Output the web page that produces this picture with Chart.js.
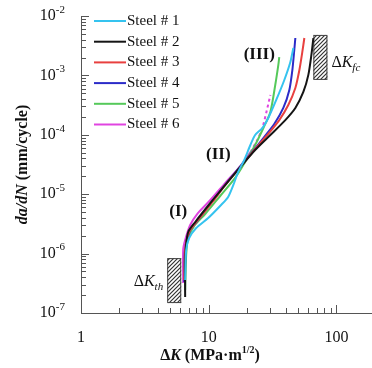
<!DOCTYPE html>
<html>
<head>
<meta charset="utf-8">
<script src="https://cdn.jsdelivr.net/npm/chart.js"></script>
<style>
  html, body { margin:0; padding:0; background:#fff; }
  #c { display:block; }
</style>
</head>
<body>
<canvas id="c" width="372" height="368"></canvas>
<script>
// 데이터
var seriesNames = ['Steel # 1', 'Steel # 2', 'Steel # 3', 'Steel # 4', 'Steel # 5', 'Steel # 6'];
var seriesColors = ['#35c3ef', '#151515', '#e8403f', '#2b2bc8', '#55c95a', '#e044e0'];

var s1K = [6.54, 6.66, 7.03, 7.98, 9.91, 12.5, 14.2, 15.6, 17.0, 19.0, 21.2, 23.1, 26.3, 29.3, 33.8, 39.1, 43.6, 46.0];
var s1R = [3.6e-7, 1.15e-6, 1.83e-6, 2.7e-6, 3.97e-6, 6.58e-6, 8.97e-6, 1.43e-5, 2.37e-5, 3.77e-5, 6.73e-5, 9.93e-5, 1.3e-4, 1.92e-4, 3.86e-4, 8.37e-4, 1.68e-3, 2.89e-3];

var s2K = [6.54, 6.54, 6.66, 6.91, 7.84, 10.3, 13.5, 17.7, 23.1, 30.4, 39.8, 47.7, 55.1, 60.3, 63.7, 66.0];
var s2R = [1.86e-7, 6.43e-7, 1.4e-6, 2.31e-6, 3.4e-6, 7.11e-6, 1.43e-5, 2.87e-5, 5.55e-5, 9.93e-5, 1.77e-4, 2.83e-4, 5.26e-4, 1.02e-3, 2.21e-3, 4.26e-3];

var s3K = [6.43, 6.54, 7.03, 8.12, 10.7, 13.7, 17.7, 22.8, 28.8, 35.7, 42.0, 47.7, 51.3, 54.1, 56.1];
var s3R = [3.6e-7, 1.15e-6, 2.31e-6, 3.54e-6, 7.39e-6, 1.49e-5, 2.87e-5, 5.55e-5, 9.93e-5, 1.77e-4, 3.18e-4, 6.14e-4, 1.23e-3, 2.48e-3, 4.26e-3];

var s4K = [6.43, 6.54, 7.16, 8.27, 10.6, 13.6, 17.5, 21.9, 26.8, 32.6, 38.4, 42.8, 45.2, 46.8, 47.7];
var s4R = [3.33e-7, 1.24e-6, 2.5e-6, 3.68e-6, 7.39e-6, 1.49e-5, 2.87e-5, 5.13e-5, 8.83e-5, 1.52e-4, 2.83e-4, 5.68e-4, 1.23e-3, 2.68e-3, 4.26e-3];

var s5K = [6.54, 6.66, 6.91, 7.70, 9.39, 12.3, 16.1, 19.3, 23.1, 26.8, 30.4, 33.2, 35.1, 35.7];
var s5R = [2.44e-7, 9.47e-7, 1.83e-6, 2.92e-6, 4.64e-6, 9.33e-6, 1.88e-5, 3.49e-5, 6.73e-5, 1.3e-4, 2.42e-4, 6.89e-4, 1.5e-3, 2.04e-3];

var s6K = [6.31, 6.31, 6.54, 7.16, 8.12, 10.3, 13.5, 17.7, 21.2, 24.0, 26.3, 28.2, 30.4];
var s6R = [3.2e-7, 1.15e-6, 1.69e-6, 3.03e-6, 4.64e-6, 7.98e-6, 1.55e-5, 2.98e-5, 5.13e-5, 8.17e-5, 1.3e-4, 2.33e-4, 4.68e-4];

var xTicks = [1, 10, 100];
var yTicks = [1e-7, 1e-6, 1e-5, 1e-4, 1e-3, 1e-2];
var yTickExp = ['-7', '-6', '-5', '-4', '-3', '-2'];
var minorSteps = [2, 3, 4, 5, 6, 7, 8, 9];

// 빗금 박스 (ΔKth, ΔKfc)
var thBoxK = [4.73, 6.09];
var thBoxR = [1.47e-7, 8.4e-7];
var fcBoxK = [66.0, 85.0];
var fcBoxR = [8.4e-4, 4.8e-3];

// 영역 라벨 위치
var regionLabels = ['(I)', '(II)', '(III)'];
var regionK = [5.77, 11.9, 24.9];
var regionR = [5.0e-6, 4.6e-5, 2.2e-3];

function toPoints(k, r){
  return k.map(function(v, i){ return {x: v, y: r[i]}; });
}

var allK = [s1K, s2K, s3K, s4K, s5K, s6K];
var allR = [s1R, s2R, s3R, s4R, s5R, s6R];

var datasets = seriesNames.map(function(name, i){
  var ds = {
    label: name,
    data: toPoints(allK[i], allR[i]),
    borderColor: seriesColors[i],
    backgroundColor: seriesColors[i],
    borderWidth: 2,
    pointRadius: 0,
    tension: 0.25,
    fill: false
  };
  if (i === 5) {
    ds.segment = { borderDash: function(ctx){ return ctx.p0DataIndex >= 8 ? [3, 3] : undefined; } };
  }
  return ds;
});

var SERIF = '"Liberation Serif", "DejaVu Serif", serif';

function hatchPattern(ctx){
  var p = document.createElement('canvas');
  p.width = 4; p.height = 4;
  var g = p.getContext('2d');
  g.fillStyle = '#fff';
  g.fillRect(0, 0, 4, 4);
  g.strokeStyle = '#333';
  g.lineWidth = 1.2;
  g.beginPath();
  g.moveTo(0, 4); g.lineTo(4, 0);
  g.moveTo(-1, 1); g.lineTo(1, -1);
  g.moveTo(3, 5); g.lineTo(5, 3);
  g.stroke();
  return ctx.createPattern(p, 'repeat');
}

// 글자 조각 여러 개를 이어서 그리기
function drawRuns(ctx, runs, x, y, align){
  var w = 0;
  runs.forEach(function(r){ ctx.font = r.font; w += ctx.measureText(r.t).width; });
  var cx = align === 'center' ? x - w / 2 : (align === 'right' ? x - w : x);
  runs.forEach(function(r){
    ctx.font = r.font;
    ctx.fillText(r.t, cx, y + (r.dy || 0));
    cx += ctx.measureText(r.t).width;
  });
}

var decorPlugin = {
  id: 'decor',
  beforeDatasetsDraw: function(chart){
    var ctx = chart.ctx, xs = chart.scales.x, ys = chart.scales.y;
    var pat = hatchPattern(ctx);
    [[thBoxK, thBoxR], [fcBoxK, fcBoxR]].forEach(function(b){
      var x0 = xs.getPixelForValue(b[0][0]), x1 = xs.getPixelForValue(b[0][1]);
      var y0 = ys.getPixelForValue(b[1][1]), y1 = ys.getPixelForValue(b[1][0]);
      ctx.save();
      ctx.fillStyle = pat;
      ctx.fillRect(x0, y0, x1 - x0, y1 - y0);
      ctx.strokeStyle = '#444';
      ctx.lineWidth = 1;
      ctx.strokeRect(x0 + 0.5, y0 + 0.5, x1 - x0 - 1, y1 - y0 - 1);
      ctx.restore();
    });
  },
  afterDraw: function(chart){
    var ctx = chart.ctx, xs = chart.scales.x, ys = chart.scales.y, a = chart.chartArea;
    var L = Math.round(a.left), B = Math.round(a.bottom);
    ctx.save();
    ctx.setLineDash([]);
    ctx.fillStyle = '#555';
    // 축선
    ctx.fillRect(L, a.top, 1, B - a.top + 1);
    ctx.fillRect(L, B, chart.width - L, 1);
    // y 눈금 (안쪽)
    yTicks.forEach(function(t, i){
      var yp = Math.round(ys.getPixelForValue(t));
      ctx.fillRect(L, yp, 8, 1);
      if (i < yTicks.length - 1) {
        minorSteps.forEach(function(m){
          var ym = Math.round(ys.getPixelForValue(t * m));
          ctx.fillRect(L, ym, 5, 1);
        });
      }
    });
    // x 눈금 (위쪽)
    xTicks.forEach(function(t){
      var xp = Math.round(xs.getPixelForValue(t));
      ctx.fillRect(xp, B - 8, 1, 8);
      minorSteps.forEach(function(m){
        if (t * m > xs.max) return;
        var xm = Math.round(xs.getPixelForValue(t * m));
        ctx.fillRect(xm, B - 5, 1, 5);
      });
    });

    ctx.fillStyle = '#111';
    ctx.textBaseline = 'middle';
    // y 눈금 라벨
    yTicks.forEach(function(t, i){
      var yp = ys.getPixelForValue(t);
      drawRuns(ctx, [
        {t: '10', font: '16px ' + SERIF},
        {t: yTickExp[i], font: '11px ' + SERIF, dy: -6}
      ], a.left - 16, yp, 'right');
    });
    // x 눈금 라벨
    ctx.textBaseline = 'top';
    xTicks.forEach(function(t){
      drawRuns(ctx, [{t: String(t), font: '16px ' + SERIF}], xs.getPixelForValue(t), a.bottom + 17, 'center');
    });
    // x 축 제목
    ctx.textBaseline = 'alphabetic';
    drawRuns(ctx, [
      {t: 'Δ', font: 'bold 16px ' + SERIF},
      {t: 'K', font: 'italic bold 16px ' + SERIF},
      {t: ' (MPa·m', font: 'bold 16px ' + SERIF},
      {t: '1/2', font: 'bold 10px ' + SERIF, dy: -7},
      {t: ')', font: 'bold 16px ' + SERIF}
    ], 210, 360, 'center');
    // y 축 제목
    ctx.save();
    ctx.translate(27, (a.top + a.bottom) / 2);
    ctx.rotate(-Math.PI / 2);
    drawRuns(ctx, [
      {t: 'da/dN', font: 'italic bold 16px ' + SERIF},
      {t: ' (mm/cycle)', font: 'bold 16px ' + SERIF}
    ], 0, 0, 'center');
    ctx.restore();

    // 영역 라벨
    ctx.textBaseline = 'middle';
    regionLabels.forEach(function(lbl, i){
      drawRuns(ctx, [{t: lbl, font: 'bold 17px ' + SERIF}],
        xs.getPixelForValue(regionK[i]), ys.getPixelForValue(regionR[i]), 'center');
    });
    // ΔKth, ΔKfc
    drawRuns(ctx, [
      {t: 'Δ', font: '16px ' + SERIF},
      {t: 'K', font: 'italic 16px ' + SERIF},
      {t: 'th', font: 'italic 11px ' + SERIF, dy: 5}
    ], xs.getPixelForValue(thBoxK[0]) - 4, ys.getPixelForValue(3.3e-7), 'right');
    drawRuns(ctx, [
      {t: 'Δ', font: '16px ' + SERIF},
      {t: 'K', font: 'italic 16px ' + SERIF},
      {t: 'fc', font: 'italic 11px ' + SERIF, dy: 5}
    ], xs.getPixelForValue(fcBoxK[1]) + 4, ys.getPixelForValue(1.6e-3), 'left');

    // 범례
    chart.data.datasets.forEach(function(ds, i){
      var ly = a.top + 5 + i * 20.7;
      ctx.strokeStyle = ds.borderColor;
      ctx.lineWidth = 2;
      ctx.beginPath();
      ctx.moveTo(a.left + 13, ly); ctx.lineTo(a.left + 45, ly);
      ctx.stroke();
      ctx.fillStyle = '#111';
      drawRuns(ctx, [{t: ds.label, font: '15px ' + SERIF}], a.left + 46, ly, 'left');
    });
    ctx.restore();
  }
};

new Chart(document.getElementById('c').getContext('2d'), {
  type: 'line',
  data: { datasets: datasets },
  options: {
    responsive: false,
    animation: false,
    layout: { padding: { left: 81, top: 16, right: 0, bottom: 55 } },
    plugins: { legend: { display: false }, tooltip: { enabled: false } },
    scales: {
      x: { type: 'logarithmic', min: 1, max: 190, display: false },
      y: { type: 'logarithmic', min: 1e-7, max: 1e-2, display: false }
    }
  },
  plugins: [decorPlugin]
});
</script>
</body>
</html>
